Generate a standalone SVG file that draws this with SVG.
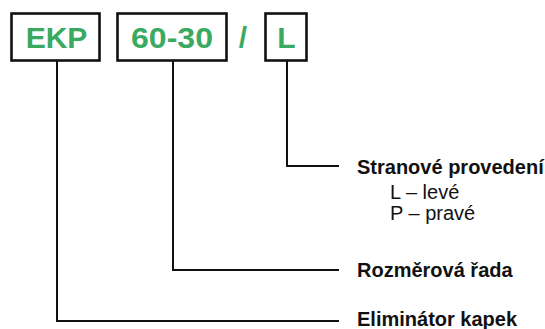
<svg xmlns="http://www.w3.org/2000/svg" width="545" height="329" viewBox="0 0 545 329">
<style>
.box{fill:#fff;stroke:#111;stroke-width:2.6}
.code{font-family:"Liberation Sans",Arial,sans-serif;font-weight:bold;font-size:30px;fill:#3aaa62;text-anchor:middle}
.conn{fill:none;stroke:#111;stroke-width:2}
.lbl{font-family:"Liberation Sans",Arial,sans-serif;font-weight:bold;font-size:20px;fill:#111}
.sub{font-family:"Liberation Sans",Arial,sans-serif;font-size:20px;fill:#111}
</style>
<rect width="545" height="329" fill="#fff"/>
<g id="connectors">
<path class="conn" d="M287,61 V166 H339"/>
<path class="conn" d="M173,61 V270 H339"/>
<path class="conn" d="M57,61 V321 H339"/>
</g>
<g id="node-ekp">
<rect class="box" x="11.5" y="13.5" width="88" height="47"/>
<text class="code" x="56.5" y="48">EKP</text>
</g>
<g id="node-6030">
<rect class="box" x="117.5" y="13.5" width="109" height="47"/>
<text class="code" x="172" y="48" textLength="82" lengthAdjust="spacingAndGlyphs">60-30</text>
</g>
<g id="node-slash">
<text class="code" x="243" y="48">/</text>
</g>
<g id="node-l">
<rect class="box" x="265.5" y="13.5" width="41" height="47"/>
<text class="code" x="286.5" y="48">L</text>
</g>
<g id="label-stranove">
<text class="lbl" x="357" y="174">Stranové provedení</text>
<text class="sub" x="390" y="199">L – levé</text>
<text class="sub" x="390" y="220">P – pravé</text>
</g>
<g id="label-rozmerova">
<text class="lbl" x="357" y="277">Rozměrová řada</text>
</g>
<g id="label-eliminator">
<text class="lbl" x="357" y="326">Eliminátor kapek</text>
</g>
</svg>
